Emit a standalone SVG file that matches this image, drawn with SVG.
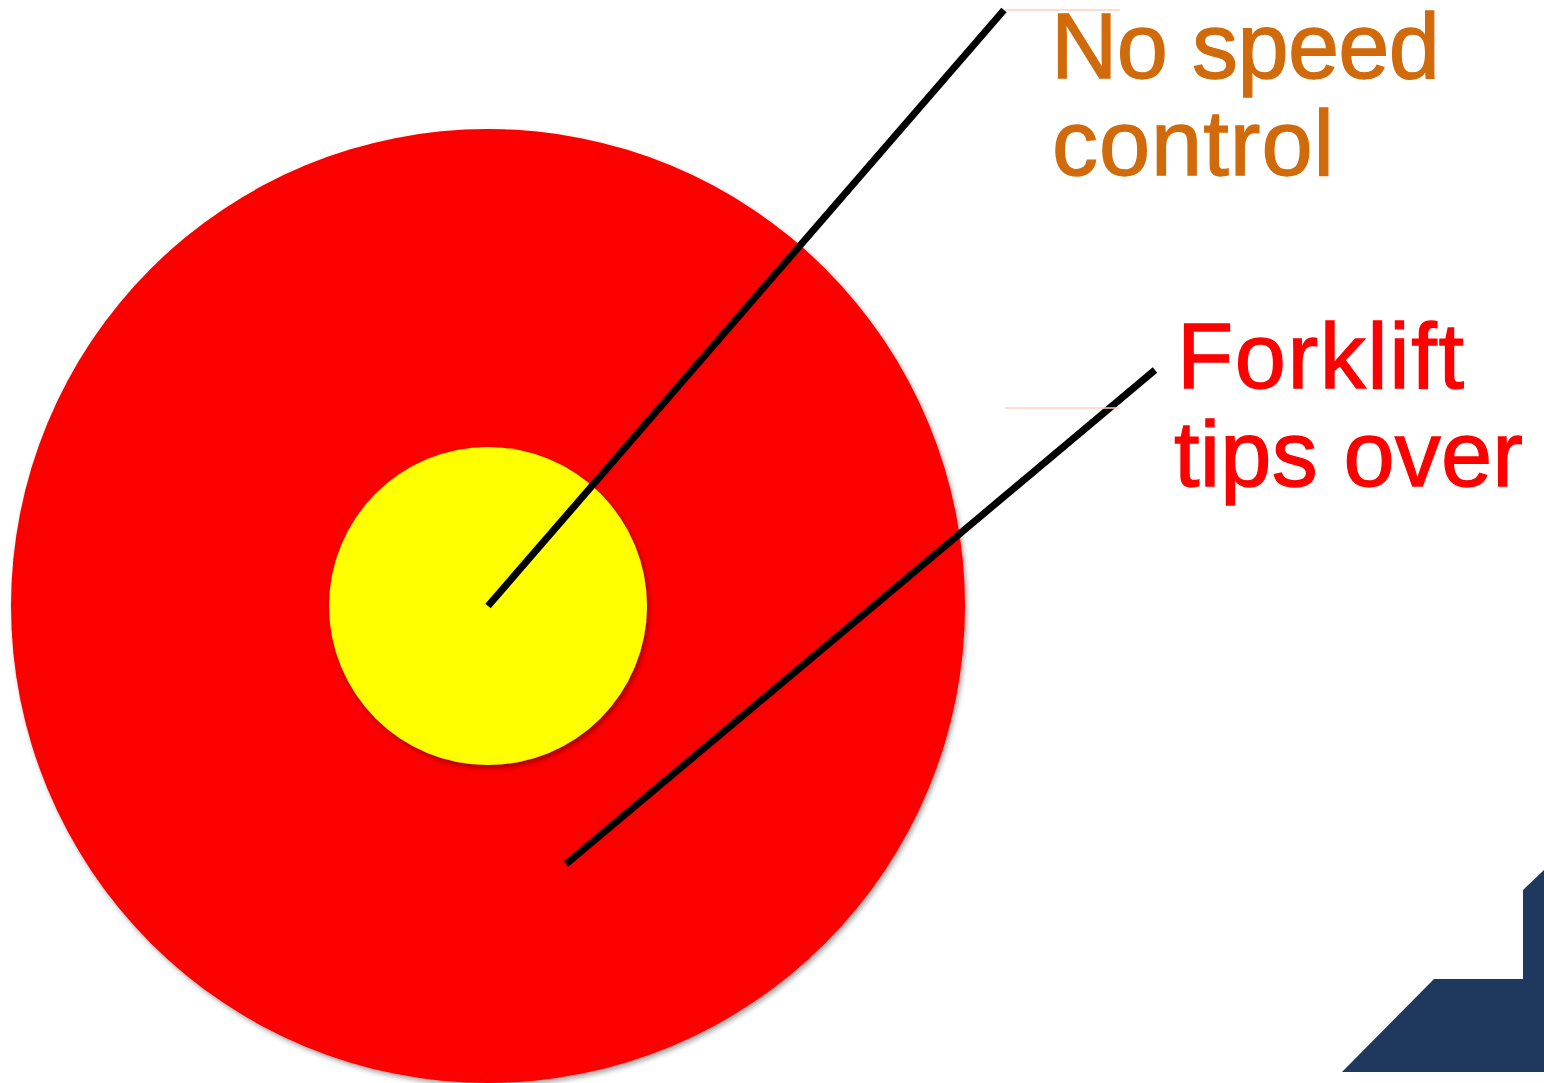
<svg xmlns="http://www.w3.org/2000/svg" width="1544" height="1083" viewBox="0 0 1544 1083">
<style>
.lbl{font-family:"Liberation Sans",Arial,sans-serif;font-size:92px;stroke-width:1.3;lengthAdjust:spacing}
.org{fill:#D06A0A;stroke:#D06A0A}
.red{fill:#FF0000;stroke:#FF0000}
.conn{stroke:#000;stroke-width:7;fill:none}
.thin{stroke:#F8D0C0;stroke-width:1.5;fill:none}
</style>
<defs>
<filter id="sh" x="-10%" y="-10%" width="120%" height="120%">
<feDropShadow dx="2" dy="3" stdDeviation="2.5" flood-color="#000" flood-opacity="0.35"/>
</filter>
</defs>
<rect width="1544" height="1083" fill="#fff"/>
<g id="outer"><circle cx="488" cy="606" r="477" fill="#FC0000" filter="url(#sh)"/></g>
<g id="inner"><circle cx="488" cy="606" r="159" fill="#FFFF00" filter="url(#sh)"/></g>
<g id="corner"><polygon points="1342,1072 1434,979 1523,979 1523,890 1544,870 1544,1072" fill="#1E385E"/></g>
<g id="connectors">
<line class="conn" x1="488" y1="606" x2="1004" y2="10"/>
<line class="conn" x1="566" y1="864" x2="1155" y2="370"/>
<line class="thin" x1="1005" y1="10" x2="1120" y2="10"/>
<line class="thin" x1="1005" y1="408" x2="1120" y2="408"/>
</g>
<g id="label1">
<text class="lbl org" x="1051" y="78" textLength="389" lengthAdjust="spacing">No speed</text>
<text class="lbl org" x="1052" y="175" textLength="282" lengthAdjust="spacing">control</text>
</g>
<g id="label2">
<text class="lbl red" x="1177" y="388" textLength="287" lengthAdjust="spacing">Forklift</text>
<text class="lbl red" x="1174" y="486" textLength="349" lengthAdjust="spacing">tips over</text>
</g>
</svg>
